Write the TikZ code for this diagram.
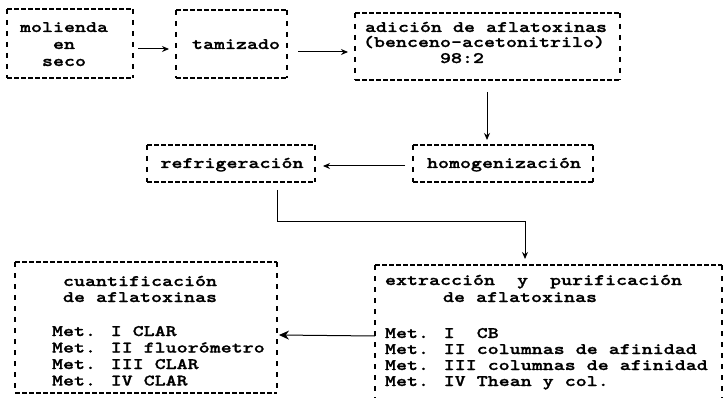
\documentclass[tikz,border=0pt]{standalone}
\usepackage{fontspec}
\newfontfamily\tw{lmmonolt10-bold}[Extension=.otf,FakeStretch=1.31,FakeBold=1.2]
\usetikzlibrary{arrows.meta,calc}
\tikzset{
  frame/.style={rectangle,inner sep=0pt,outer sep=0pt},
  hd/.style={line width=1.5pt,dash pattern=on 4.5pt off 2.5pt},
  vd/.style={line width=1.5pt,dash pattern=on 5pt off 6pt},
  txt/.style={inner sep=0pt,outer sep=0pt,font=\tw\fontsize{16}{16.7}\selectfont},
  arr/.style={line width=1pt,-{Stealth[length=7pt,width=6pt]}},
  bigarr/.style={line width=1pt,-{Stealth[length=10pt,width=9pt]}},
}
\newcommand\fbord[1]{%
  \draw[hd] (#1.north west) -- (#1.north east);
  \draw[hd] (#1.south west) -- (#1.south east);
  \draw[vd] (#1.north west) -- (#1.south west);
  \draw[vd] (#1.north east) -- (#1.south east);}
\begin{document}
\begin{tikzpicture}[x=1pt,y=-1pt]
\useasboundingbox[fill=white] (0,0) rectangle (723,398);
% boxes
\node[frame,minimum width=126pt,minimum height=69pt] (b1) at (70,43.5) {};
\node[frame,minimum width=111pt,minimum height=68pt] (b2) at (231.5,44) {};
\node[frame,minimum width=265pt,minimum height=67pt] (b3) at (487.5,46.5) {};
\node[frame,minimum width=180pt,minimum height=37pt] (bh) at (503,163.5) {};
\node[frame,minimum width=168pt,minimum height=37pt] (br) at (231,163.5) {};
\node[frame,minimum width=347pt,minimum height=150pt] (be) at (548.5,340) {};
\node[frame,minimum width=262pt,minimum height=131pt] (bc) at (146,327.5) {};
\fbord{b1}\fbord{b2}\fbord{b3}\fbord{bh}\fbord{br}\fbord{be}\fbord{bc}
% texts
\node[txt,anchor=base] (t1a) at (64,32) {molienda};
\node[txt,anchor=base] (t1b) at (64,49) {en};
\node[txt,anchor=base] (t1c) at (64,66) {seco};
\node[txt,anchor=base] (t2) at (236,49) {tamizado};
\node[txt,anchor=base] (t3a) at (486,32) {adición de aflatoxinas};
\node[txt,anchor=base] (t3b) at (484,47) {(benceno-acetonitrilo)};
\node[txt,anchor=base] (t3c) at (462,63) {98:2};
\node[txt,anchor=base west] (th) at (427,168) {homogenización};
\node[txt,anchor=base] (tr) at (232,168) {refrigeración};
\node[txt,anchor=base west] (tc1) at (63,286) {cuantificación};
\node[txt,anchor=base west] (tc2) at (63,302) {de aflatoxinas};
\node[txt,anchor=base west] (tc3) at (52,336) {Met. I CLAR};
\node[txt,anchor=base west] (tc4) at (52,352.5) {Met. II fluorómetro};
\node[txt,anchor=base west] (tc5) at (52,369) {Met. III CLAR};
\node[txt,anchor=base west] (tc6) at (52,385.5) {Met. IV CLAR};
\node[txt,anchor=base west] (te1) at (385,285) {extracción\ \ y\ \ purificación};
\node[txt,anchor=base west] (te2) at (443,302) {de aflatoxinas};
\node[txt,anchor=base west] (te3) at (385,338) {Met. I\ \ CB};
\node[txt,anchor=base west] (te4) at (385,354) {Met. II columnas de afinidad};
\node[txt,anchor=base west] (te5) at (385,370) {Met. III columnas de afinidad};
\node[txt,anchor=base west] (te6) at (385,386) {Met. IV Thean y col.};
% connectors
\draw[arr] ($(b1.east)+(5,5.5)$) -- ($(b2.west)+(-7,5)$);
\draw[arr] ($(b2.east)+(11,8)$) -- ($(b3.west)+(-7,5.5)$);
\draw[arr] ($(b3.south)+(-0.5,12)$) -- ($(bh.north)+(-16,-5)$);
\draw[arr] ($(bh.west)+(-8,2.5)$) -- ($(br.east)+(8,2.5)$);
\draw[arr] ($(br.south)+(46,8)$) |- ($(be.north)+(-23.5,-43)$) -- ($(be.north)+(-23.5,-6)$);
\draw[bigarr] ($(be.west)+(0,-4)$) -- ($(bc.east)+(2,7.5)$);
\end{tikzpicture}
\end{document}
